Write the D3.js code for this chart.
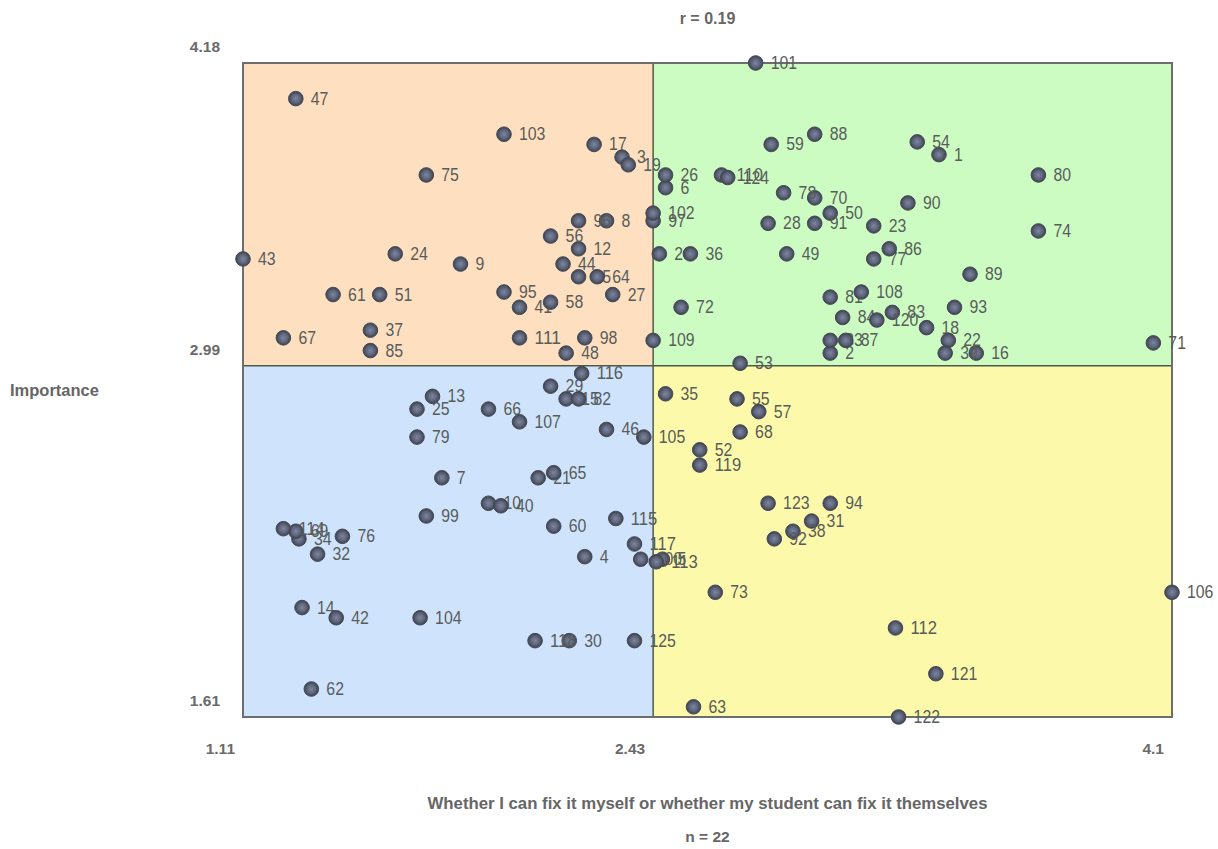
<!DOCTYPE html>
<html>
<head>
<meta charset="utf-8">
<script src="https://cdn.jsdelivr.net/npm/d3@7"></script>
<style>
  body { margin: 0; background: #fff; }
  text { font-family: "Liberation Sans", Arial, sans-serif; }
</style>
</head>
<body>
<svg id="chart"></svg>
<script>
// point ids and their two scores
var pointIds = [1,2,3,4,5,6,7,8,9,10,12,13,14,15,16,17,18,19,20,21,22,23,24,25,26,27,28,29,30,
    31,32,33,34,35,36,37,38,39,40,41,42,43,44,45,46,47,48,49,50,51,52,53,54,55,56,57,58,59,60,
    61,62,63,64,65,66,67,68,69,70,71,72,73,74,75,76,77,78,79,80,81,82,83,84,85,86,87,88,89,90,
    91,92,93,94,95,96,97,98,99,100,101,102,103,104,105,106,107,108,109,110,111,112,113,114,115,
    116,117,118,119,120,121,122,123,124,125];
var xValues = [3.35,3.00,2.33,2.21,2.46,2.47,1.75,2.28,1.81,1.90,2.19,1.72,1.30,2.15,3.47,2.24,3.31,2.35,2.45,2.06,
    3.38,3.14,1.60,1.67,2.47,2.30,2.80,2.10,2.16,2.94,1.35,3.00,1.29,2.47,2.55,1.52,2.88,3.37,1.94,2.00,
    1.41,1.11,2.14,2.19,2.28,1.28,2.15,2.86,3.00,1.55,2.58,2.71,3.28,2.70,2.10,2.77,2.10,2.81,2.11,1.40,
    1.33,2.56,2.25,2.11,1.90,1.24,2.71,1.28,2.95,4.04,2.52,2.63,3.67,1.70,1.43,3.14,2.85,1.67,3.67,3.00,
    2.19,3.20,3.04,1.52,3.19,3.05,2.95,3.45,3.25,2.95,2.82,3.40,3.00,1.95,2.19,2.43,2.21,1.70,2.39,2.76,
    2.43,1.95,1.68,2.40,4.10,2.00,3.10,2.43,2.65,2.00,3.21,2.44,1.24,2.31,2.20,2.37,2.05,2.58,3.15,3.34,
    3.22,2.80,2.67,2.37];
var yValues = [3.82,3.04,3.81,2.24,2.23,3.69,2.55,3.56,3.39,2.45,3.45,2.87,2.04,2.86,3.04,3.86,3.14,3.78,3.43,2.55,
    3.09,3.54,3.43,2.82,3.74,3.27,3.55,2.91,1.91,2.38,2.25,3.09,2.31,2.88,3.43,3.13,2.34,3.04,2.44,3.22,
    2.00,3.41,3.39,3.34,2.74,4.04,3.04,3.43,3.59,3.27,2.66,3.00,3.87,2.86,3.50,2.81,3.24,3.86,2.36,3.27,
    1.72,1.65,3.34,2.57,2.82,3.10,2.73,2.34,3.65,3.08,3.22,2.10,3.52,3.74,2.32,3.41,3.67,2.71,3.74,3.26,
    2.86,3.20,3.18,3.05,3.45,3.09,3.90,3.35,3.63,3.55,2.31,3.22,2.45,3.28,3.56,3.56,3.10,2.40,2.23,4.18,
    3.59,3.90,2.00,2.71,2.10,2.77,3.28,3.09,3.74,3.10,1.96,2.22,2.35,2.39,2.96,2.29,1.91,2.60,3.17,1.78,
    1.61,2.45,3.73,1.91];

var xTicks = [1.11, 2.43, 4.1];   // min, mean, max
var yTicks = [4.18, 2.99, 1.61];
var xMid = 2.43, yMid = 2.99;
var xTitle = "Whether I can fix it myself or whether my student can fix it themselves";
var yTitle = "Importance";
var topNote = "r = 0.19";
var bottomNote = "n = 22";

var width = 1218, height = 849;
var plotLeft = 243, plotRight = 1172, plotTop = 63, plotBottom = 717;

var svg = d3.select("#chart")
    .attr("width", width)
    .attr("height", height);

var x = d3.scaleLinear().domain([1.11, 4.1]).range([plotLeft, plotRight]);
var y = d3.scaleLinear().domain([1.61, 4.18]).range([plotBottom, plotTop]);

// quadrant backgrounds
var quads = [
    {x0: 1.11, x1: xMid, y0: yMid, y1: 4.18, fill: "#fee0c0"},
    {x0: xMid, x1: 4.1, y0: yMid, y1: 4.18, fill: "#cdfcc2"},
    {x0: 1.11, x1: xMid, y0: 1.61, y1: yMid, fill: "#cfe4fc"},
    {x0: xMid, x1: 4.1, y0: 1.61, y1: yMid, fill: "#fdf9aa"}
];
svg.selectAll("rect.quad")
    .data(quads).enter()
    .append("rect")
    .attr("class", "quad")
    .attr("x", d => x(d.x0))
    .attr("y", d => y(d.y1))
    .attr("width", d => x(d.x1) - x(d.x0))
    .attr("height", d => y(d.y0) - y(d.y1))
    .attr("fill", d => d.fill);

svg.append("line")
    .attr("x1", x(xMid)).attr("x2", x(xMid))
    .attr("y1", plotTop).attr("y2", plotBottom)
    .attr("stroke", "#4e5a48").attr("stroke-width", 1.5);
svg.append("line")
    .attr("x1", plotLeft).attr("x2", plotRight)
    .attr("y1", y(yMid)).attr("y2", y(yMid))
    .attr("stroke", "#4e5a48").attr("stroke-width", 1.5);

svg.append("rect")
    .attr("x", plotLeft).attr("y", plotTop)
    .attr("width", plotRight - plotLeft).attr("height", plotBottom - plotTop)
    .attr("fill", "none")
    .attr("stroke", "#6b6e6a")
    .attr("stroke-width", 2);

// tick labels
svg.selectAll("text.ytick")
    .data(yTicks).enter()
    .append("text")
    .attr("class", "ytick")
    .attr("x", plotLeft - 23)
    .attr("y", d => y(d) - 11)
    .attr("text-anchor", "end")
    .attr("font-size", 15.5)
    .attr("font-weight", "bold")
    .attr("fill", "#6a6a6a")
    .text(d => d);

svg.selectAll("text.xtick")
    .data(xTicks).enter()
    .append("text")
    .attr("class", "xtick")
    .attr("x", d => x(d) - 8)
    .attr("y", 754)
    .attr("text-anchor", "end")
    .attr("font-size", 15.5)
    .attr("font-weight", "bold")
    .attr("fill", "#6a6a6a")
    .text(d => d);

svg.append("text")
    .attr("x", (plotLeft + plotRight) / 2).attr("y", 24)
    .attr("text-anchor", "middle")
    .attr("font-size", 16).attr("font-weight", "bold")
    .attr("fill", "#666")
    .text(topNote);

svg.append("text")
    .attr("x", 10).attr("y", 396)
    .attr("font-size", 16.5).attr("font-weight", "bold")
    .attr("fill", "#666")
    .text(yTitle);

svg.append("text")
    .attr("x", (plotLeft + plotRight) / 2).attr("y", 809)
    .attr("text-anchor", "middle")
    .attr("font-size", 16.5).attr("font-weight", "bold")
    .attr("fill", "#666")
    .attr("textLength", 560)
    .attr("lengthAdjust", "spacingAndGlyphs")
    .text(xTitle);

svg.append("text")
    .attr("x", (plotLeft + plotRight) / 2).attr("y", 842)
    .attr("text-anchor", "middle")
    .attr("font-size", 15.5).attr("font-weight", "bold")
    .attr("fill", "#666")
    .text(bottomNote);

// points
var defs = svg.append("defs");
var grad = defs.append("radialGradient").attr("id", "dotGrad");
grad.append("stop").attr("offset", "0%").attr("stop-color", "#7c86a4");
grad.append("stop").attr("offset", "60%").attr("stop-color", "#5d6478");
grad.append("stop").attr("offset", "100%").attr("stop-color", "#3d404c");

var points = pointIds.map(function (id, i) {
    return {id: id, x: xValues[i], y: yValues[i]};
});

var g = svg.append("g");
var pt = g.selectAll("g.pt")
    .data(points).enter()
    .append("g")
    .attr("class", "pt")
    .attr("transform", d => "translate(" + x(d.x) + "," + y(d.y) + ")");

pt.append("text")
    .attr("x", 15)
    .attr("y", 6)
    .attr("font-size", 17.5)
    .attr("fill", "#585c5a")
    .attr("textLength", d => String(d.id).length * 8.8)
    .attr("lengthAdjust", "spacingAndGlyphs")
    .text(d => d.id);

pt.append("circle")
    .attr("r", 7.3)
    .attr("fill", "url(#dotGrad)")
    .attr("stroke", "#454957")
    .attr("stroke-width", 1);
</script>
</body>
</html>
